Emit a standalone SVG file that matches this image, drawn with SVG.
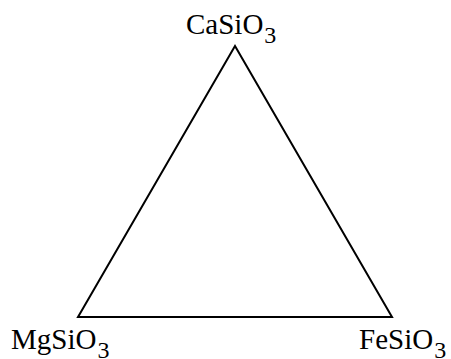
<svg xmlns="http://www.w3.org/2000/svg" width="451" height="359" viewBox="0 0 451 359">
<style>
text{font-family:"Liberation Serif","Times New Roman",serif;font-size:29px;fill:#000}
.sub{font-size:24px}
</style>
<rect width="451" height="359" fill="#fff"/>
<g id="connectors">
<polygon points="235,46 78,317 392,317" fill="none" stroke="#000" stroke-width="2" stroke-linejoin="miter"/>
</g>
<g id="CaSiO3"><text x="186" y="34">CaSiO<tspan class="sub" dx="1" dy="9">3</tspan></text></g>
<g id="MgSiO3"><text x="11" y="349">MgSiO<tspan class="sub" dx="1" dy="9">3</tspan></text></g>
<g id="FeSiO3"><text x="359" y="349">FeSiO<tspan class="sub" dx="1" dy="9">3</tspan></text></g>
</svg>
